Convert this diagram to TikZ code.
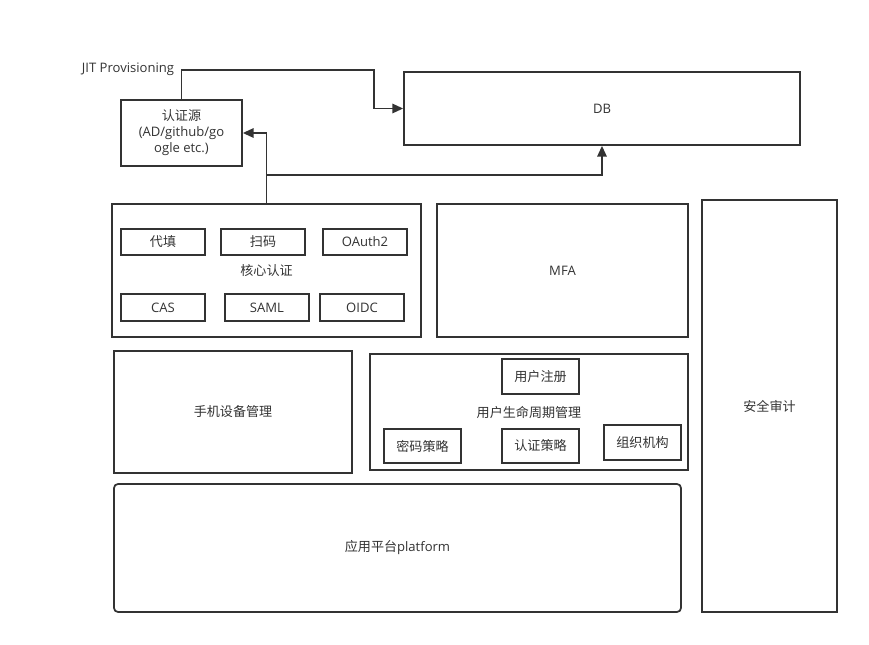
\documentclass[tikz,border=0pt]{standalone}
\usepackage{fontspec}
\setmainfont{Open Sans}
\newfontfamily\cjk{Noto Sans CJK SC}
\usepackage{tikz}
\usetikzlibrary{positioning,calc,arrows.meta}
\definecolor{linegray}{RGB}{51,51,51}

\begin{document}
\begin{tikzpicture}[x=0.75pt,y=-0.75pt, every node/.style={text=linegray, font=\fontsize{9.8}{12}\selectfont},
					box/.style 2 args={draw=linegray, line width=1.3pt, inner sep=0pt, align=center,
						minimum width=#1*0.75pt, minimum height=#2*0.75pt},
					arr/.style={draw=linegray, line width=1.3pt, -{Triangle[length=8pt,width=7pt]}}]
					
					\path[fill=white] (0,0) rectangle (869,645);
					
					% top row
					\node[box={121}{66}] (src) at (181.5,133) {{\cjk 认证源}\\(AD/github/go\\ogle etc.)};
					\node[box={396}{73}] (db) at (602,108.5) {DB};
					\node (jit) at (128,69) {JIT Provisioning};
					
					% core auth
					\node[box={309}{133}] (core) at (266.5,270.5) {\cjk 核心认证};
					\node[box={84}{26}] (daitian) at (163,242) {\cjk 代填};
					\node[box={84}{26}] (saoma) at (263,242) {\cjk 扫码};
					\node[box={84}{26}] (oauth) at (365,242) {OAuth2};
					\node[box={84}{27}] (cas) at (163,307.5) {CAS};
					\node[box={84}{27}] (saml) at (267,307.5) {SAML};
					\node[box={84}{27}] (oidc) at (362,307.5) {OIDC};
					
					\node[box={251}{133}] (mfa) at (562.5,270.5) {MFA};
					\node[box={135}{412}] (audit) at (769.5,406) {\cjk 安全审计};
					\node[box={238}{122}] (phone) at (233,412) {\cjk 手机设备管理};
					
					% user lifecycle
					\node[box={318}{116}] (life) at (529,412) {\cjk 用户生命周期管理};
					\node[box={77}{35}] (reg) at (540.5,376.5) {\cjk 用户注册};
					\node[box={77}{34}] (pwd) at (422.5,446) {\cjk 密码策略};
					\node[box={77}{34}] (authp) at (540.5,446) {\cjk 认证策略};
					\node[box={77}{35}] (org) at (642.5,442.5) {\cjk 组织机构};
					
					\node[box={567}{128}, rounded corners=3pt] (app) at (397.5,548) {{\cjk 应用平台}platform};
					
					% connectors
					\coordinate (bend) at (374,70);
					\coordinate (split) at (266.5,175);
					\draw[arr] (src.north) |- (bend) |- (db.west);
					\draw[arr] (core.north) |- (src.east);
					\draw[arr] (split) -| (db.south);
				\end{tikzpicture}
\end{document}
